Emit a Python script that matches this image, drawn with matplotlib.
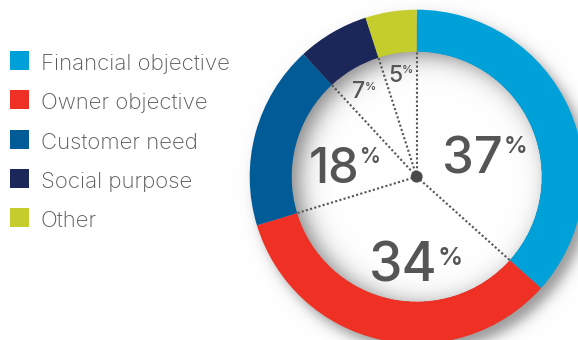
import numpy as np
import matplotlib
matplotlib.use("Agg")
import matplotlib.pyplot as plt
from matplotlib.patches import Rectangle, Circle

# Shares of respondents by primary business objective
categories = ["Financial objective", "Owner objective", "Customer need",
              "Social purpose", "Other"]
shares = [37, 34, 18, 7, 5]
colors = ["#00a0d9", "#ee3124", "#005b97", "#1c2759", "#c5cd2c"]

W, H = 578, 340
fig = plt.figure(figsize=(W / 100, H / 100), dpi=100)
ax = fig.add_axes([0, 0, 1, 1])
ax.set_axis_off()

cx, cy = 416.7, 163.3
r_out, r_in = 167.0, 125.0
text_grey = "#555555"
num_font = "Inter"
leg_font = "Inter"


def soft_step(x):
    # smooth 0..1 transition, similar to a gaussian blur edge
    return 0.5 * (1.0 + np.tanh(1.15 * x))


# Background shading: drop shadow outside the ring, inner shadow inside
xs = np.arange(W) + 0.5
ys = H - (np.arange(H) + 0.5)
X, Y = np.meshgrid(xs, ys)
shade = np.zeros_like(X)

d_out = np.hypot(X - (cx + 7), Y - (cy - 8))
outer = 0.40 * (1 - soft_step((d_out - r_out) / 9.0))
d_c = np.hypot(X - cx, Y - cy)
shade = np.where(d_c >= r_in, outer, shade)

d_in = np.hypot(X - (cx + 8), Y - (cy - 4))
inner = 0.50 * soft_step((d_in - r_in) / 16.0)
shade = np.where(d_c < r_in, inner, shade)

g = 1.0 - shade
img = np.dstack([g, g, g])
ax.imshow(img, extent=(0, W, 0, H), origin="upper", zorder=0,
          interpolation="bilinear")

# Donut ring
ax.pie(shares, colors=colors, startangle=90, counterclock=False,
       radius=r_out, center=(cx, cy),
       wedgeprops=dict(width=r_out - r_in, linewidth=0), frame=False)

# Dotted spokes on each slice boundary
cum = np.concatenate([[0], np.cumsum(shares)])
total = float(sum(shares))
for c in cum[:-1]:
    ang = np.deg2rad(90 - 360 * c / total)
    ax.plot([cx, cx + r_in * np.cos(ang)], [cy, cy + r_in * np.sin(ang)],
            color=text_grey, lw=1.5, ls=(0, (1, 1.1)), zorder=3,
            solid_capstyle="butt")
ax.add_patch(Circle((cx, cy), 5.2, color="#4a4a4a", zorder=4))

# Percentage labels: (digits right edge, baseline, size,
#                     pct offset, pct baseline, pct size)
label_pos = [
    (503, 166.7, 36.5, 0.5, 186.7, 17),
    (437, 58.3, 38.5, 0.5, 75.0, 18),
    (359, 156.7, 35.0, 0.5, 177.0, 15),
    (365, 241.7, 16.5, -0.5, 250.0, 8),
    (402, 258.3, 16.5, -0.5, 267.0, 8),
]
for v, (xr, yb, fs, off, pyb, pfs) in zip(shares, label_pos):
    ax.text(xr, yb, f"{v}", fontsize=fs, family=num_font, color=text_grey,
            ha="right", va="baseline", zorder=5, fontweight="medium")
    ax.text(xr + off, pyb, "%", fontsize=pfs, family=num_font,
            color=text_grey, ha="left", va="baseline", zorder=5,
            fontweight="semibold")

# Legend
sq = 19
for i, (name, col) in enumerate(zip(categories, colors)):
    top = 51 + 39.3 * i
    ax.add_patch(Rectangle((10, H - top - sq), sq, sq, color=col, lw=0,
                           zorder=5))
    ax.text(41, H - top - sq, name, fontsize=16, family=leg_font,
            color="#5a5a5a", ha="left", va="baseline", zorder=5,
            fontweight="light")

ax.set_xlim(0, W)
ax.set_ylim(0, H)
ax.set_aspect("auto")
fig.savefig("out.png", dpi=100)
